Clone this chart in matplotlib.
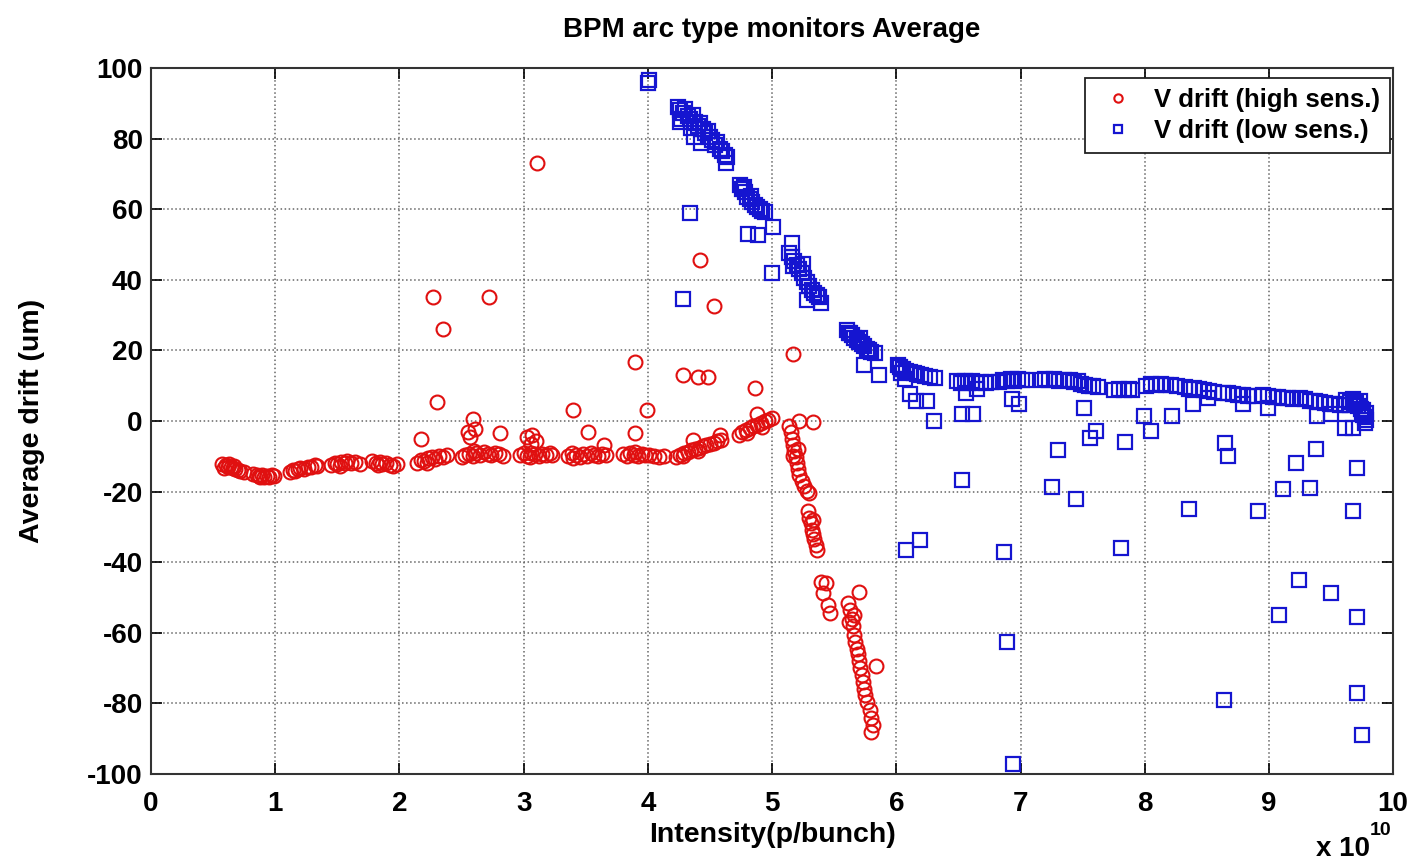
import matplotlib
matplotlib.use("Agg")
import matplotlib.pyplot as plt

plt.rcParams['font.family'] = ['Liberation Sans', 'DejaVu Sans']
plt.rcParams['font.weight'] = 'bold'
plt.rcParams['axes.unicode_minus'] = False

# intensity in units of 1e10 p/bunch, drift in um
high_x = [0.57, 0.59, 0.60, 0.62, 0.63, 0.64, 0.66, 0.67, 0.68, 0.70, 0.72, 0.75,
          0.82, 0.85, 0.87, 0.88, 0.89, 0.91, 0.93, 0.95, 0.97, 0.99,
          1.12, 1.14, 1.16, 1.18, 1.20, 1.23, 1.26, 1.29, 1.32, 1.34,
          1.45, 1.48, 1.50, 1.52, 1.53, 1.56, 1.58, 1.61, 1.64, 1.68,
          1.78, 1.81, 1.83, 1.84, 1.86, 1.89, 1.92, 1.95, 1.98,
          2.14, 2.17, 2.20, 2.22, 2.23, 2.26, 2.29, 2.32, 2.35, 2.38,
          2.17, 2.30, 2.27, 2.35, 2.72, 3.11,
          2.50, 2.53, 2.56, 2.59, 2.60, 2.62, 2.65, 2.68, 2.71, 2.74, 2.77, 2.80, 2.83,
          2.59, 2.55, 2.57, 2.61, 2.81,
          2.97, 3.00, 3.03, 3.05, 3.06, 3.09, 3.12, 3.15, 3.18, 3.21, 3.23,
          3.03, 3.07, 3.10, 3.06,
          3.36, 3.39, 3.40, 3.42, 3.45, 3.48, 3.51, 3.54, 3.57, 3.60, 3.63, 3.66,
          3.40, 3.52, 3.65,
          3.80, 3.83, 3.86, 3.89, 3.90, 3.92, 3.95, 3.98, 4.01, 4.05, 4.09, 4.13,
          3.90, 3.99, 3.90,
          4.23, 4.26, 4.28, 4.29, 4.32, 4.35, 4.38, 4.40, 4.41, 4.44, 4.47, 4.50, 4.53, 4.56, 4.59,
          4.36, 4.58, 4.28, 4.40, 4.48, 4.42, 4.53,
          4.73, 4.76, 4.79, 4.80, 4.82, 4.85, 4.88, 4.91, 4.92, 4.94, 4.97, 5.00,
          4.86, 4.88, 5.17,
          5.14, 5.15, 5.16, 5.17, 5.17, 5.18, 5.19, 5.20, 5.21, 5.21, 5.22, 5.24, 5.26, 5.28, 5.30,
          5.22, 5.33,
          5.29, 5.30, 5.31, 5.32, 5.33, 5.33, 5.34, 5.35, 5.36,
          5.39, 5.41, 5.43, 5.45, 5.47,
          5.61, 5.62, 5.63, 5.64, 5.65, 5.66, 5.66, 5.67, 5.68, 5.69, 5.70, 5.70, 5.71, 5.72,
          5.73, 5.74, 5.75, 5.76, 5.79, 5.80, 5.81, 5.80, 5.84]
high_y = [-12.3, -13.2, -12.6, -12.9, -12.2, -13.1, -13.4, -12.8, -13.6, -13.9, -14.2, -14.4,
          -15.0, -15.3, -15.6, -16.0, -15.2, -15.8, -15.5, -15.9, -15.4, -15.7,
          -14.5, -13.9, -14.2, -13.6, -13.2, -13.5, -12.9, -13.1, -12.6, -12.8,
          -12.4, -11.9, -12.2, -12.8, -11.6, -11.9, -11.3, -12.0, -11.7, -12.3,
          -11.4, -11.9, -12.6, -11.6, -12.2, -12.0, -12.5, -12.8, -12.1,
          -11.8, -11.0, -11.4, -11.9, -10.6, -10.2, -10.8, -9.9, -10.3, -9.7,
          -5.0, 5.4, 35.0, 26.0, 35.0, 73.0,
          -10.2, -9.6, -9.3, -9.8, -8.6, -9.1, -9.5, -8.9, -9.3, -9.7, -9.0, -9.4, -9.8,
          0.6, -3.0, -4.5, -2.2, -3.4,
          -9.6, -9.2, -9.8, -10.1, -9.0, -9.4, -9.9, -9.3, -9.7, -9.1, -9.5,
          -4.6, -4.0, -5.8, -6.5,
          -9.8, -9.2, -10.4, -9.6, -10.1, -9.4, -9.8, -9.1, -9.6, -10.0, -9.3, -9.7,
          3.1, -3.0, -6.8,
          -9.4, -9.8, -9.2, -9.6, -8.7, -9.9, -9.3, -9.7, -9.5, -9.9, -10.2, -10.0,
          -3.4, 3.0, 16.8,
          -10.3, -9.6, -10.0, -9.1, -8.8, -8.3, -7.9, -8.6, -7.6, -7.2, -6.9, -6.5, -6.1, -5.8, -5.3,
          -5.4, -4.0, 13.0, 12.5, 12.5, 45.6, 32.6,
          -3.9, -3.2, -2.6, -3.5, -2.0, -1.5, -1.0, -0.5, -1.6, 0.0, 0.4, 0.8,
          9.3, 2.0, 19.0,
          -1.5, -3.2, -5.0, -6.8, -10.0, -8.5, -10.3, -12.0, -13.6, -8.0, -15.2, -17.0, -18.5, -19.8, -20.5,
          0.0, -0.3,
          -25.5, -27.5, -29.0, -30.8, -32.0, -28.0, -33.5, -35.0, -36.5,
          -45.5, -48.8, -46.0, -52.0, -54.5,
          -51.5, -57.0, -53.5, -56.0, -58.0, -60.5, -55.0, -62.5, -64.5, -66.0, -68.0, -48.5, -70.0, -72.0,
          -74.0, -76.0, -77.5, -79.5, -82.0, -84.0, -86.0, -88.0, -69.5]

low_x = [4.00, 4.01,
         4.24, 4.26, 4.27, 4.28, 4.30, 4.32, 4.34, 4.35, 4.36, 4.38, 4.40, 4.42, 4.44, 4.46, 4.48,
         4.50, 4.52, 4.54, 4.56, 4.58, 4.60, 4.62, 4.64,
         4.26, 4.37, 4.43, 4.63, 4.34, 4.28,
         4.74, 4.76, 4.77, 4.78, 4.80, 4.82, 4.83, 4.84, 4.86, 4.88, 4.90, 4.92, 4.94,
         4.81, 4.89, 5.01, 5.00,
         5.14, 5.16, 5.17, 5.18, 5.20, 5.22, 5.24, 5.25, 5.26, 5.28, 5.30, 5.32, 5.34, 5.36, 5.38,
         5.16, 5.28, 5.39,
         5.60, 5.62, 5.63, 5.64, 5.66, 5.68, 5.70, 5.71, 5.72, 5.74, 5.76, 5.78, 5.80, 5.83,
         5.74, 5.86,
         6.01, 6.03, 6.04, 6.05, 6.08, 6.11, 6.14, 6.17, 6.20, 6.23, 6.27, 6.31,
         6.07, 6.11, 6.16, 6.25, 6.30, 6.08, 6.19,
         6.49, 6.52, 6.55, 6.58, 6.61, 6.64, 6.68, 6.72, 6.76,
         6.56, 6.65, 6.53, 6.62, 6.53,
         6.83, 6.86, 6.89, 6.92, 6.95, 6.98, 7.01, 7.04,
         6.93, 6.99, 6.87, 6.89, 6.94,
         7.17, 7.20, 7.23, 7.27, 7.31, 7.35,
         7.40, 7.43, 7.46, 7.49, 7.52, 7.55, 7.58, 7.62,
         7.51, 7.30, 7.61, 7.56, 7.25, 7.45,
         7.75, 7.79, 7.83, 7.87, 7.90,
         7.84, 7.81, 7.99, 8.05,
         8.01, 8.05, 8.09, 8.13, 8.17, 8.21, 8.26,
         8.22,
         8.32, 8.36, 8.40, 8.44, 8.48, 8.52, 8.56,
         8.39, 8.51, 8.36,
         8.63, 8.67, 8.71, 8.75, 8.79, 8.83, 8.88,
         8.79, 8.65, 8.67, 8.91, 8.64,
         8.95, 8.99, 9.03, 9.07, 9.11, 9.15, 9.19,
         8.99, 9.11, 9.22, 9.38, 9.33, 9.24, 9.50, 9.08, 9.71, 9.71, 9.75, 9.71, 9.68,
         9.25, 9.29, 9.33, 9.37, 9.41, 9.45, 9.49, 9.53, 9.57, 9.61, 9.65, 9.69,
         9.39, 9.50, 9.61, 9.68,
         9.62, 9.65, 9.68, 9.70, 9.72, 9.73, 9.74, 9.75, 9.76, 9.76, 9.77, 9.78, 9.77, 9.78]
low_y = [95.8, 96.5,
         89.0, 88.0, 85.5, 87.2, 88.3, 86.5, 85.6, 83.0, 86.8, 84.8, 83.7, 84.5, 82.6, 81.5, 82.3,
         80.4, 79.5, 78.3, 79.0, 77.2, 76.4, 75.5, 74.8,
         84.7, 80.5, 78.8, 73.0, 59.0, 34.6,
         66.8, 65.6, 66.2, 64.9, 63.6, 62.8, 63.8, 62.0, 61.2, 60.5, 60.0, 59.5, 59.2,
         53.0, 52.7, 55.0, 42.0,
         47.5, 46.5, 44.0, 45.3, 44.2, 43.0, 42.0, 44.5, 40.6, 39.4, 38.3, 37.2, 36.4, 35.6, 35.0,
         50.4, 34.3, 33.4,
         25.8, 25.0, 24.8, 24.3, 23.6, 23.0, 22.4, 23.4, 21.8, 21.2, 20.5, 20.0, 19.5, 19.2,
         16.0, 13.0,
         15.8, 15.2, 13.5, 14.8, 14.3, 14.0, 13.6, 13.3, 13.0, 12.8, 12.5, 12.3,
         11.8, 7.6, 5.7, 5.7, 0.0, -36.5, -33.8,
         11.4, 10.8, 11.2, 10.9, 11.3, 10.7, 11.1, 10.8, 11.0,
         8.0, 9.0, 1.9, 1.9, -16.6,
         11.0, 11.6, 11.2, 11.8, 11.4, 11.9, 11.5, 11.7,
         6.2, 4.7, -37.0, -62.5, -97.2,
         11.5, 11.8, 11.6, 11.9, 11.4, 11.7,
         11.5, 11.0, 11.2, 10.6, 10.3, 10.0, 9.8, 9.5,
         3.8, -8.1, -2.8, -4.7, -18.6, -22.0,
         8.8, 9.2, 8.9, 9.1, 8.8,
         -6.0, -36.0, 1.4, -2.8,
         10.0, 10.5, 10.2, 10.4, 10.1, 10.3, 10.0,
         1.4,
         9.6, 9.2, 9.3, 9.0, 8.8, 8.6, 8.3,
         4.7, 6.6, -25.0,
         8.0, 7.8, 7.6, 7.5, 7.3, 7.2, 7.0,
         4.7, -6.2, -10.0, -25.6, -79.0,
         7.4, 7.2, 6.9, 6.8, 6.6, 6.4, 6.3,
         3.8, -19.4, -11.8, -8.0, -19.0, -45.0, -48.8, -55.0, -55.5, -77.0, -89.0, -13.3, -25.6,
         6.4, 6.1, 5.8, 5.6, 5.3, 5.1, 4.9, 4.7, 4.5, 4.4, 4.6, 4.8,
         1.4, 1.9, -1.9, -1.9,
         6.0, 5.5, 6.2, 5.0, 4.2, 5.6, 3.5, 2.6, 1.8, 3.0, 1.0, 0.3, -0.5, 2.2]

fig = plt.figure(figsize=(14.18, 8.6), dpi=100)
ax = fig.add_axes([0.1065, 0.1, 0.876, 0.8209])

ax.plot(high_x, high_y, linestyle='none', marker='o', markersize=10,
        markerfacecolor='none', markeredgecolor='#e01010', markeredgewidth=1.5,
        label='V drift (high sens.)')
ax.plot(low_x, low_y, linestyle='none', marker='s', markersize=9.5,
        markerfacecolor='none', markeredgecolor='#1515d0', markeredgewidth=1.6,
        label='V drift (low sens.)')

ax.set_xlim(0, 10)
ax.set_ylim(-100, 100)
ax.set_xticks(range(0, 11))
ax.set_yticks(range(-100, 101, 20))
ax.grid(True, linestyle=':', color='#666666', linewidth=1.1)
ax.tick_params(direction='in', length=8, width=1.2, top=True, right=True,
               labelsize=20, pad=6)
ax.tick_params(axis='x', pad=12)
for lab in ax.get_xticklabels() + ax.get_yticklabels():
    lab.set_fontweight('bold')
for sp in ax.spines.values():
    sp.set_linewidth(1.5)
    sp.set_color('#333333')

ax.set_title('BPM arc type monitors Average', fontsize=20, fontweight='bold', pad=22)
ax.set_xlabel('Intensity(p/bunch)', fontsize=20.5, fontweight='bold', labelpad=4)
ax.set_ylabel('Average drift (um)', fontsize=20.5, fontweight='bold', labelpad=30)

# MATLAB style exponent under the right end of the x axis
fig.text(0.928, 0.005, 'x 10', fontsize=20, fontweight='bold', va='baseline')
fig.text(0.966, 0.029, '10', fontsize=14, fontweight='bold', va='baseline')

leg = ax.legend(loc='upper right', bbox_to_anchor=(0.9976, 0.9858), borderaxespad=0,
                fontsize=18.5, markerscale=0.6, handletextpad=0.5,
                fancybox=False, framealpha=1, edgecolor='#222222',
                labelspacing=0.25, handlelength=1.8)
leg.get_frame().set_linewidth(1.3)
for t in leg.get_texts():
    t.set_fontweight('bold')

fig.savefig('out.png', dpi=100)
